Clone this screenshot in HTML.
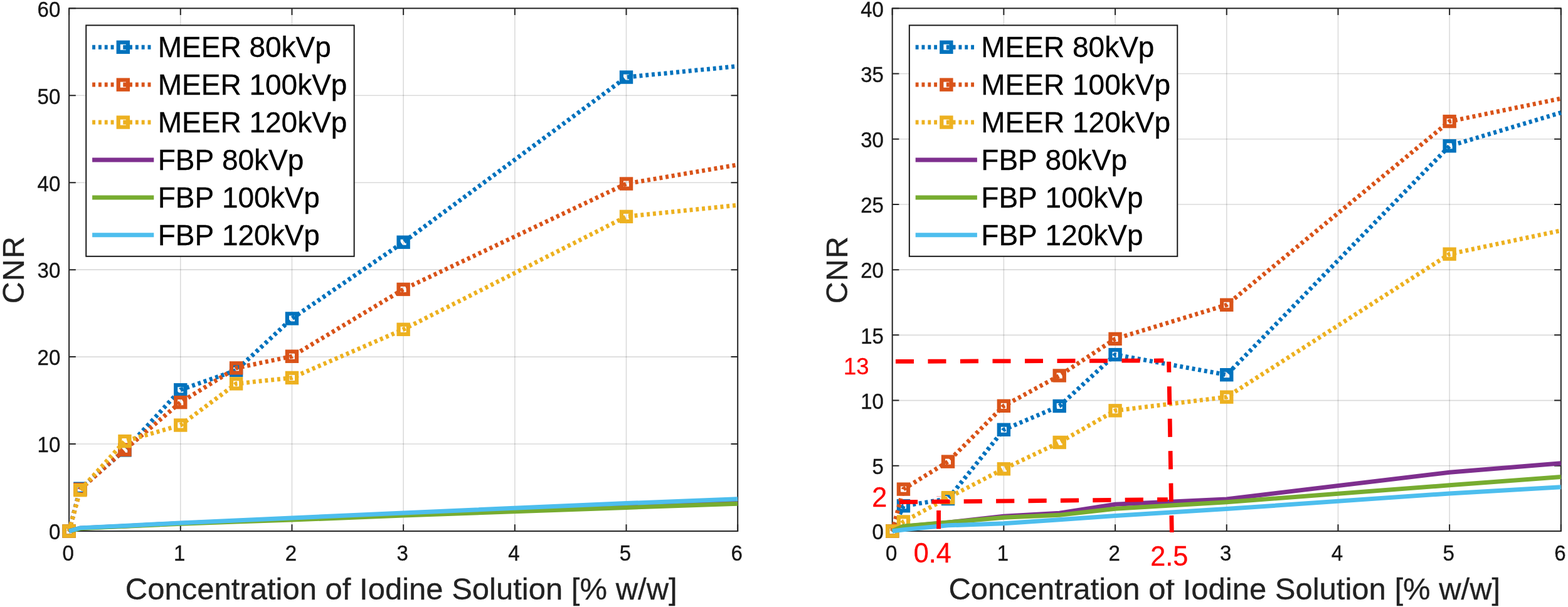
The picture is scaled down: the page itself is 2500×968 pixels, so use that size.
<!DOCTYPE html>
<html lang="en">
<head>
<meta charset="utf-8">
<title>CNR vs. Concentration of Iodine Solution</title>
<style>
html,body{margin:0;padding:0;background:#fff;}
body{width:2500px;height:968px;}
svg{display:block;}
text{font-family:"Liberation Sans", sans-serif;font-kerning:none;}
.tk{font-size:33px;fill:#171717;stroke:#171717;stroke-width:0.35px;}
.lb{font-size:49.0px;fill:#222;stroke:#222;stroke-width:0.3px;}
.lg{font-size:46px;fill:#000;stroke:#000;stroke-width:0.3px;}
.rd{font-size:43.2px;fill:#ff0000;stroke:#ff0000;stroke-width:0.3px;}
.rs{font-size:36.5px;fill:#ff0000;stroke:#ff0000;stroke-width:0.3px;}
.grid line{stroke:#000;stroke-opacity:0.145;stroke-width:1.6;}
.ax{stroke:#262626;stroke-width:2;fill:none;}
.dl{fill:none;stroke-width:7.0;stroke-linejoin:miter;}
.dot{stroke-dasharray:4.9 4.926;}
.mk{fill:none;stroke-width:6.2;}
.red{stroke:#ff0000;stroke-width:6.8;fill:none;}
</style>
</head>
<body>
<svg width="2500" height="968" viewBox="0 0 2500 968" role="img" aria-label="CNR versus concentration of iodine solution, two panels">
<rect x="0" y="0" width="2500" height="968" fill="#ffffff"/>
<g id="plot1">
<g class="grid">
<line x1="110.1" y1="13.3" x2="110.1" y2="847"/>
<line x1="287.78" y1="13.3" x2="287.78" y2="847"/>
<line x1="465.47" y1="13.3" x2="465.47" y2="847"/>
<line x1="643.15" y1="13.3" x2="643.15" y2="847"/>
<line x1="820.83" y1="13.3" x2="820.83" y2="847"/>
<line x1="998.52" y1="13.3" x2="998.52" y2="847"/>
<line x1="1176.2" y1="13.3" x2="1176.2" y2="847"/>
<line x1="110.1" y1="847" x2="1176.2" y2="847"/>
<line x1="110.1" y1="708.05" x2="1176.2" y2="708.05"/>
<line x1="110.1" y1="569.1" x2="1176.2" y2="569.1"/>
<line x1="110.1" y1="430.15" x2="1176.2" y2="430.15"/>
<line x1="110.1" y1="291.2" x2="1176.2" y2="291.2"/>
<line x1="110.1" y1="152.25" x2="1176.2" y2="152.25"/>
<line x1="110.1" y1="13.3" x2="1176.2" y2="13.3"/>
</g>
<g class="ax">
<rect x="110.1" y="13.3" width="1066.1" height="833.7"/>
<path d="M110.1 847v-10.7M110.1 13.3v10.7M287.78 847v-10.7M287.78 13.3v10.7M465.47 847v-10.7M465.47 13.3v10.7M643.15 847v-10.7M643.15 13.3v10.7M820.83 847v-10.7M820.83 13.3v10.7M998.52 847v-10.7M998.52 13.3v10.7M1176.2 847v-10.7M1176.2 13.3v10.7M110.1 847h10.7M1176.2 847h-10.7M110.1 708.05h10.7M1176.2 708.05h-10.7M110.1 569.1h10.7M1176.2 569.1h-10.7M110.1 430.15h10.7M1176.2 430.15h-10.7M110.1 291.2h10.7M1176.2 291.2h-10.7M110.1 152.25h10.7M1176.2 152.25h-10.7M110.1 13.3h10.7M1176.2 13.3h-10.7"/>
</g>
<g text-anchor="middle">
<text class="tk" transform="translate(108.6 894.3) scale(1 1.04)">0</text>
<text class="tk" transform="translate(286.28 894.3) scale(1 1.04)">1</text>
<text class="tk" transform="translate(463.97 894.3) scale(1 1.04)">2</text>
<text class="tk" transform="translate(641.65 894.3) scale(1 1.04)">3</text>
<text class="tk" transform="translate(819.33 894.3) scale(1 1.04)">4</text>
<text class="tk" transform="translate(997.02 894.3) scale(1 1.04)">5</text>
<text class="tk" transform="translate(1174.7 894.3) scale(1 1.04)">6</text>
</g>
<g text-anchor="end">
<text class="tk" transform="translate(96.3 860.3) scale(1 1.04)">0</text>
<text class="tk" transform="translate(96.3 721.35) scale(1 1.04)">10</text>
<text class="tk" transform="translate(96.3 582.4) scale(1 1.04)">20</text>
<text class="tk" transform="translate(96.3 443.45) scale(1 1.04)">30</text>
<text class="tk" transform="translate(96.3 304.5) scale(1 1.04)">40</text>
<text class="tk" transform="translate(96.3 165.55) scale(1 1.04)">50</text>
<text class="tk" transform="translate(96.3 26.6) scale(1 1.04)">60</text>
</g>
<text class="lb" text-anchor="middle" transform="translate(639.75 956.4) scale(1 1.0)">Concentration of Iodine Solution [% w/w]</text>
<text class="lb" text-anchor="middle" transform="translate(37.9 430.15) rotate(-90) scale(1 1.01)" style="font-size:48.3px" letter-spacing="1.2">CNR</text>
<polyline class="dl dot" stroke="#0072BD" points="110.1,847 127.87,779.19 198.94,717.92 287.78,621.76 376.62,590.5 465.47,507.96 643.15,386.24 998.52,123.07 1176.2,105.56"/>
<g class="mk" stroke="#0072BD">
<rect x="102.5" y="839.4" width="15.2" height="15.2"/>
<rect x="120.27" y="771.59" width="15.2" height="15.2"/>
<rect x="191.34" y="710.32" width="15.2" height="15.2"/>
<rect x="280.18" y="614.16" width="15.2" height="15.2"/>
<rect x="369.02" y="582.9" width="15.2" height="15.2"/>
<rect x="457.87" y="500.36" width="15.2" height="15.2"/>
<rect x="635.55" y="378.64" width="15.2" height="15.2"/>
<rect x="990.92" y="115.47" width="15.2" height="15.2"/>
</g>
<polyline class="dl dot" stroke="#D95319" points="110.1,847 127.87,780.44 198.94,717.22 287.78,641.63 376.62,586.89 465.47,568.27 643.15,461.41 998.52,293.01 1176.2,262.72"/>
<g class="mk" stroke="#D95319">
<rect x="102.5" y="839.4" width="15.2" height="15.2"/>
<rect x="120.27" y="772.84" width="15.2" height="15.2"/>
<rect x="191.34" y="709.62" width="15.2" height="15.2"/>
<rect x="280.18" y="634.03" width="15.2" height="15.2"/>
<rect x="369.02" y="579.29" width="15.2" height="15.2"/>
<rect x="457.87" y="560.67" width="15.2" height="15.2"/>
<rect x="635.55" y="453.81" width="15.2" height="15.2"/>
<rect x="990.92" y="285.41" width="15.2" height="15.2"/>
</g>
<polyline class="dl dot" stroke="#EDB120" points="110.1,847 127.87,781.69 198.94,703.6 287.78,678.04 376.62,611.9 465.47,602.45 643.15,525.33 998.52,345.39 1176.2,327.19"/>
<g class="mk" stroke="#EDB120">
<rect x="102.5" y="839.4" width="15.2" height="15.2"/>
<rect x="120.27" y="774.09" width="15.2" height="15.2"/>
<rect x="191.34" y="696" width="15.2" height="15.2"/>
<rect x="280.18" y="670.44" width="15.2" height="15.2"/>
<rect x="369.02" y="604.3" width="15.2" height="15.2"/>
<rect x="457.87" y="594.85" width="15.2" height="15.2"/>
<rect x="635.55" y="517.73" width="15.2" height="15.2"/>
<rect x="990.92" y="337.79" width="15.2" height="15.2"/>
</g>
<polyline class="dl" stroke="#7E2F8E" points="110.1,847 127.87,842.14 198.94,838.94 287.78,834.49 376.62,831.02 465.47,827.27 643.15,819.9 998.52,805.73 1176.2,799.62"/>
<polyline class="dl" stroke="#77AC30" points="110.1,847 127.87,842.83 198.94,839.36 287.78,835.19 376.62,831.99 465.47,829.08 643.15,821.99 998.52,809.48 1176.2,803.23"/>
<polyline class="dl" stroke="#4DBEEE" points="110.1,847 127.87,841.86 198.94,838.39 287.78,833.94 376.62,829.91 465.47,825.88 643.15,817.96 998.52,802.54 1176.2,795.87"/>
<g id="legend1">
<rect x="137.25" y="40.35" width="427.4" height="368.45" fill="#fff" stroke="#1a1a1a" stroke-width="2"/>
<line class="dl dot" stroke="#0072BD" x1="147.1" y1="75.2" x2="244.9" y2="75.2"/>
<rect class="mk" stroke="#0072BD" x="188.7" y="67.6" width="15.2" height="15.2"/>
<text class="lg" transform="translate(251.7 91.3) scale(1 1.0)">MEER 80kVp</text>
<line class="dl dot" stroke="#D95319" x1="147.1" y1="135.12" x2="244.9" y2="135.12"/>
<rect class="mk" stroke="#D95319" x="188.7" y="127.52" width="15.2" height="15.2"/>
<text class="lg" transform="translate(251.7 151.2) scale(1 1.0)">MEER 100kVp</text>
<line class="dl dot" stroke="#EDB120" x1="147.1" y1="195.04" x2="244.9" y2="195.04"/>
<rect class="mk" stroke="#EDB120" x="188.7" y="187.44" width="15.2" height="15.2"/>
<text class="lg" transform="translate(251.7 211.1) scale(1 1.0)">MEER 120kVp</text>
<line class="dl" stroke="#7E2F8E" x1="147.1" y1="254.96" x2="245.3" y2="254.96"/>
<text class="lg" transform="translate(251.7 271) scale(1 1.0)">FBP 80kVp</text>
<line class="dl" stroke="#77AC30" x1="147.1" y1="314.88" x2="245.3" y2="314.88"/>
<text class="lg" transform="translate(251.7 330.9) scale(1 1.0)">FBP 100kVp</text>
<line class="dl" stroke="#4DBEEE" x1="147.1" y1="374.8" x2="245.3" y2="374.8"/>
<text class="lg" transform="translate(251.7 390.8) scale(1 1.0)">FBP 120kVp</text>
</g>
</g>
<g id="plot2">
<g class="grid">
<line x1="1422.7" y1="13.3" x2="1422.7" y2="847"/>
<line x1="1600.38" y1="13.3" x2="1600.38" y2="847"/>
<line x1="1778.07" y1="13.3" x2="1778.07" y2="847"/>
<line x1="1955.75" y1="13.3" x2="1955.75" y2="847"/>
<line x1="2133.43" y1="13.3" x2="2133.43" y2="847"/>
<line x1="2311.12" y1="13.3" x2="2311.12" y2="847"/>
<line x1="2488.8" y1="13.3" x2="2488.8" y2="847"/>
<line x1="1422.7" y1="847" x2="2488.8" y2="847"/>
<line x1="1422.7" y1="742.79" x2="2488.8" y2="742.79"/>
<line x1="1422.7" y1="638.58" x2="2488.8" y2="638.58"/>
<line x1="1422.7" y1="534.36" x2="2488.8" y2="534.36"/>
<line x1="1422.7" y1="430.15" x2="2488.8" y2="430.15"/>
<line x1="1422.7" y1="325.94" x2="2488.8" y2="325.94"/>
<line x1="1422.7" y1="221.72" x2="2488.8" y2="221.72"/>
<line x1="1422.7" y1="117.51" x2="2488.8" y2="117.51"/>
<line x1="1422.7" y1="13.3" x2="2488.8" y2="13.3"/>
</g>
<g class="ax">
<rect x="1422.7" y="13.3" width="1066.1" height="833.7"/>
<path d="M1422.7 847v-10.7M1422.7 13.3v10.7M1600.38 847v-10.7M1600.38 13.3v10.7M1778.07 847v-10.7M1778.07 13.3v10.7M1955.75 847v-10.7M1955.75 13.3v10.7M2133.43 847v-10.7M2133.43 13.3v10.7M2311.12 847v-10.7M2311.12 13.3v10.7M2488.8 847v-10.7M2488.8 13.3v10.7M1422.7 847h10.7M2488.8 847h-10.7M1422.7 742.79h10.7M2488.8 742.79h-10.7M1422.7 638.58h10.7M2488.8 638.58h-10.7M1422.7 534.36h10.7M2488.8 534.36h-10.7M1422.7 430.15h10.7M2488.8 430.15h-10.7M1422.7 325.94h10.7M2488.8 325.94h-10.7M1422.7 221.72h10.7M2488.8 221.72h-10.7M1422.7 117.51h10.7M2488.8 117.51h-10.7M1422.7 13.3h10.7M2488.8 13.3h-10.7"/>
</g>
<g text-anchor="middle">
<text class="tk" transform="translate(1421.2 894.3) scale(1 1.04)">0</text>
<text class="tk" transform="translate(1598.88 894.3) scale(1 1.04)">1</text>
<text class="tk" transform="translate(1776.57 894.3) scale(1 1.04)">2</text>
<text class="tk" transform="translate(1954.25 894.3) scale(1 1.04)">3</text>
<text class="tk" transform="translate(2131.93 894.3) scale(1 1.04)">4</text>
<text class="tk" transform="translate(2309.62 894.3) scale(1 1.04)">5</text>
<text class="tk" transform="translate(2487.3 894.3) scale(1 1.04)">6</text>
</g>
<g text-anchor="end">
<text class="tk" transform="translate(1408.9 860.3) scale(1 1.04)">0</text>
<text class="tk" transform="translate(1408.9 756.09) scale(1 1.04)">5</text>
<text class="tk" transform="translate(1408.9 651.88) scale(1 1.04)">10</text>
<text class="tk" transform="translate(1408.9 547.66) scale(1 1.04)">15</text>
<text class="tk" transform="translate(1408.9 443.45) scale(1 1.04)">20</text>
<text class="tk" transform="translate(1408.9 339.24) scale(1 1.04)">25</text>
<text class="tk" transform="translate(1408.9 235.02) scale(1 1.04)">30</text>
<text class="tk" transform="translate(1408.9 130.81) scale(1 1.04)">35</text>
<text class="tk" transform="translate(1408.9 26.6) scale(1 1.04)">40</text>
</g>
<text class="lb" text-anchor="middle" transform="translate(1952.35 956.4) scale(1 1.0)">Concentration of Iodine Solution [% w/w]</text>
<text class="lb" text-anchor="middle" transform="translate(1350.5 430.15) rotate(-90) scale(1 1.01)" style="font-size:48.3px" letter-spacing="1.2">CNR</text>
<polyline class="dl dot" stroke="#0072BD" points="1422.7,847 1440.47,806.77 1511.54,795.52 1600.38,685.26 1689.22,647.54 1778.07,565.63 1955.75,597.72 2311.12,232.77 2488.8,179.62"/>
<g class="mk" stroke="#0072BD">
<rect x="1415.1" y="839.4" width="15.2" height="15.2"/>
<rect x="1432.87" y="799.17" width="15.2" height="15.2"/>
<rect x="1503.94" y="787.92" width="15.2" height="15.2"/>
<rect x="1592.78" y="677.66" width="15.2" height="15.2"/>
<rect x="1681.62" y="639.94" width="15.2" height="15.2"/>
<rect x="1770.47" y="558.03" width="15.2" height="15.2"/>
<rect x="1948.15" y="590.12" width="15.2" height="15.2"/>
<rect x="2303.52" y="225.17" width="15.2" height="15.2"/>
</g>
<polyline class="dl dot" stroke="#D95319" points="1422.7,847 1440.47,780.1 1511.54,736.12 1600.38,647.33 1689.22,598.97 1778.07,540.41 1955.75,486.22 2311.12,193.59 2488.8,157.11"/>
<g class="mk" stroke="#D95319">
<rect x="1415.1" y="839.4" width="15.2" height="15.2"/>
<rect x="1432.87" y="772.5" width="15.2" height="15.2"/>
<rect x="1503.94" y="728.52" width="15.2" height="15.2"/>
<rect x="1592.78" y="639.73" width="15.2" height="15.2"/>
<rect x="1681.62" y="591.37" width="15.2" height="15.2"/>
<rect x="1770.47" y="532.81" width="15.2" height="15.2"/>
<rect x="1948.15" y="478.62" width="15.2" height="15.2"/>
<rect x="2303.52" y="185.99" width="15.2" height="15.2"/>
</g>
<polyline class="dl dot" stroke="#EDB120" points="1422.7,847 1440.47,831.99 1511.54,793.64 1600.38,747.79 1689.22,705.48 1778.07,654.83 1955.75,633.16 2311.12,405.14 2488.8,367.62"/>
<g class="mk" stroke="#EDB120">
<rect x="1415.1" y="839.4" width="15.2" height="15.2"/>
<rect x="1432.87" y="824.39" width="15.2" height="15.2"/>
<rect x="1503.94" y="786.04" width="15.2" height="15.2"/>
<rect x="1592.78" y="740.19" width="15.2" height="15.2"/>
<rect x="1681.62" y="697.88" width="15.2" height="15.2"/>
<rect x="1770.47" y="647.23" width="15.2" height="15.2"/>
<rect x="1948.15" y="625.56" width="15.2" height="15.2"/>
<rect x="2303.52" y="397.54" width="15.2" height="15.2"/>
</g>
<polyline class="dl" stroke="#7E2F8E" points="1422.7,847 1440.47,839.71 1511.54,833.24 1600.38,823.24 1689.22,818.24 1778.07,804.27 1955.75,795.94 2311.12,753.21 2488.8,738.83"/>
<polyline class="dl" stroke="#77AC30" points="1422.7,847 1440.47,839.29 1511.54,833.04 1600.38,825.32 1689.22,821.36 1778.07,811.36 1955.75,800.73 2311.12,773.84 2488.8,760.5"/>
<polyline class="dl" stroke="#4DBEEE" points="1422.7,847 1440.47,844.71 1511.54,837.83 1600.38,834.81 1689.22,828.66 1778.07,822.61 1955.75,811.57 2311.12,786.97 2488.8,776.76"/>
<g id="legend2">
<rect x="1449.85" y="40.35" width="427.4" height="368.45" fill="#fff" stroke="#1a1a1a" stroke-width="2"/>
<line class="dl dot" stroke="#0072BD" x1="1459.7" y1="75.2" x2="1557.5" y2="75.2"/>
<rect class="mk" stroke="#0072BD" x="1501.3" y="67.6" width="15.2" height="15.2"/>
<text class="lg" transform="translate(1564.3 91.3) scale(1 1.0)">MEER 80kVp</text>
<line class="dl dot" stroke="#D95319" x1="1459.7" y1="135.12" x2="1557.5" y2="135.12"/>
<rect class="mk" stroke="#D95319" x="1501.3" y="127.52" width="15.2" height="15.2"/>
<text class="lg" transform="translate(1564.3 151.2) scale(1 1.0)">MEER 100kVp</text>
<line class="dl dot" stroke="#EDB120" x1="1459.7" y1="195.04" x2="1557.5" y2="195.04"/>
<rect class="mk" stroke="#EDB120" x="1501.3" y="187.44" width="15.2" height="15.2"/>
<text class="lg" transform="translate(1564.3 211.1) scale(1 1.0)">MEER 120kVp</text>
<line class="dl" stroke="#7E2F8E" x1="1459.7" y1="254.96" x2="1557.9" y2="254.96"/>
<text class="lg" transform="translate(1564.3 271) scale(1 1.0)">FBP 80kVp</text>
<line class="dl" stroke="#77AC30" x1="1459.7" y1="314.88" x2="1557.9" y2="314.88"/>
<text class="lg" transform="translate(1564.3 330.9) scale(1 1.0)">FBP 100kVp</text>
<line class="dl" stroke="#4DBEEE" x1="1459.7" y1="374.8" x2="1557.9" y2="374.8"/>
<text class="lg" transform="translate(1564.3 390.8) scale(1 1.0)">FBP 120kVp</text>
</g>
</g>
<g id="annotations">
<line class="red" x1="1428" y1="576.4" x2="1855.4" y2="575" stroke-dasharray="29 22.5"/>
<line class="red" x1="1863.6" y1="576.8" x2="1868.3" y2="849" stroke-dasharray="17 22.4 29.2 22.3 29.2 22.3 29.2 22.3 29.2 22.3 29.2 22.3"/>
<line class="red" x1="1433.9" y1="800.7" x2="1861.8" y2="796.6" stroke-dasharray="29.2 22.2"/>
<line class="red" x1="1496.6" y1="843.5" x2="1496.6" y2="814"/>
<rect x="1493.2" y="791" width="6.8" height="1.4" fill="#ffb3b3"/>
<rect x="1830" y="866" width="70" height="58.7" fill="#ffffff"/>
<text class="rs" transform="translate(1345 596.8) scale(1 1.03)">13</text>
<text class="rd" transform="translate(1390.3 808.4) scale(1 1.03)">2</text>
<text class="rd" transform="translate(1456.8 896.9) scale(1 1.03)">0.4</text>
<text class="rd" transform="translate(1834.3 902.3) scale(1 1.03)">2.5</text>
</g>
</svg>
</body>
</html>
